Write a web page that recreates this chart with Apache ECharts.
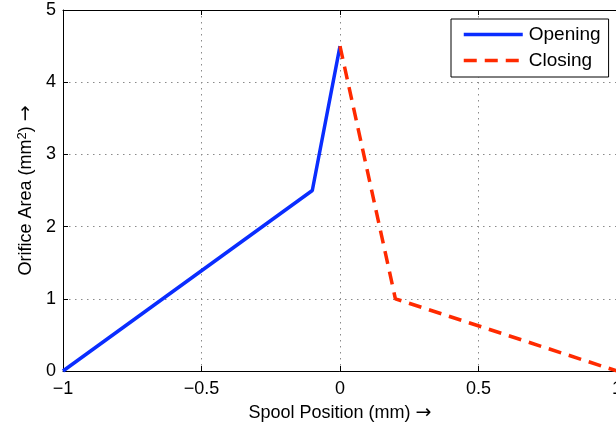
<!DOCTYPE html>
<html>
<head>
<meta charset="utf-8">
<script src="https://cdn.jsdelivr.net/npm/echarts@6/dist/echarts.min.js"></script>
<style>
  html, body { margin: 0; padding: 0; background: #fff; }
  #chart { width: 616px; height: 427px; }
</style>
</head>
<body>
<div id="chart"></div>
<script>
// Spool position (mm) vs orifice area (mm^2)
const openingX = [-1, -0.1, 0];
const openingY = [0, 2.5, 4.5];
const closingX = [0, 0.2, 1];
const closingY = [4.5, 1, 0];
const seriesNames = ['Opening', 'Closing'];
const xTicks = { min: -1, max: 1, step: 0.5 };
const yTicks = { min: 0, max: 5, step: 1 };

const FONT = '"Liberation Sans", Arial, Helvetica, sans-serif';
const ARROW_FONT = '"DejaVu Sans", sans-serif';
const pairs = (xs, ys) => xs.map((x, i) => [x, ys[i]]);

const gridLine = { show: true, lineStyle: { color: '#8a8a8a', width: 1, type: [1.5, 4.5] } };
const tickIn = { show: true, inside: true, length: 5, lineStyle: { color: '#000', width: 1 } };
const nameRich = {
  base: { fontFamily: FONT, fontSize: 18, color: '#000' },
  sup: { fontFamily: FONT, fontSize: 13, color: '#000', verticalAlign: 'top', padding: [0, 0, 6, 0] },
  arr: { fontFamily: ARROW_FONT, fontSize: 19, color: '#000' }
};

const chart = echarts.init(document.getElementById('chart'), null, { renderer: 'canvas' });
chart.setOption({
  animation: false,
  backgroundColor: '#fff',
  textStyle: { fontFamily: FONT },
  grid: { left: 63, top: 10, width: 554, height: 361, containLabel: false, outerBoundsMode: 'none' },
  legend: {
    data: seriesNames,
    orient: 'vertical',
    left: 451,
    top: 19,
    backgroundColor: '#fff',
    borderColor: '#000',
    borderWidth: 1,
    borderRadius: 0,
    padding: [6, 8, 7, 11],
    itemWidth: 59,
    itemHeight: 19,
    itemGap: 7,
    itemStyle: { opacity: 0 },
    lineStyle: { width: 3.5 },
    textStyle: { fontFamily: FONT, fontSize: 19, color: '#000', padding: [0, 0, 0, 1] }
  },
  xAxis: [{
    type: 'value',
    min: xTicks.min, max: xTicks.max, interval: xTicks.step,
    name: '{base|Spool Position (mm) }{arr|\u2192}',
    nameLocation: 'middle',
    nameGap: 33,
    nameTextStyle: { fontFamily: FONT, fontSize: 18, color: '#000', rich: nameRich },
    axisLine: { show: true, onZero: false, lineStyle: { color: '#000', width: 1 } },
    axisTick: tickIn,
    axisLabel: {
      fontFamily: FONT, fontSize: 18, color: '#000', margin: 9,
      formatter: v => (v < 0 ? '\u2212' + Math.abs(v) : String(v))
    },
    splitLine: gridLine
  }, {
    type: 'value',
    position: 'top',
    min: xTicks.min, max: xTicks.max, interval: xTicks.step,
    axisLine: { show: true, onZero: false, lineStyle: { color: '#000', width: 1 } },
    axisTick: tickIn,
    axisLabel: { show: false },
    splitLine: { show: false }
  }],
  yAxis: [{
    type: 'value',
    min: yTicks.min, max: yTicks.max, interval: yTicks.step,
    name: '{base|Orifice Area (mm}{sup|2}{base|) }{arr|\u2192}',
    nameLocation: 'middle',
    nameGap: 27,
    nameTextStyle: { fontFamily: FONT, fontSize: 18, color: '#000', rich: nameRich },
    axisLine: { show: true, onZero: false, lineStyle: { color: '#000', width: 1 } },
    axisTick: tickIn,
    axisLabel: { fontFamily: FONT, fontSize: 18, color: '#000', margin: 7 },
    splitLine: gridLine
  }],
  series: [{
    name: seriesNames[0],
    type: 'line',
    data: pairs(openingX, openingY),
    symbol: 'none',
    lineStyle: { color: '#0a2dff', width: 3.5 },
    itemStyle: { color: '#0a2dff' },
    z: 3
  }, {
    name: seriesNames[1],
    type: 'line',
    data: pairs(closingX, closingY),
    symbol: 'none',
    lineStyle: { color: '#ff2a00', width: 3.5, type: [13, 8] },
    itemStyle: { color: '#ff2a00' },
    z: 3
  }]
});
</script>
</body>
</html>
